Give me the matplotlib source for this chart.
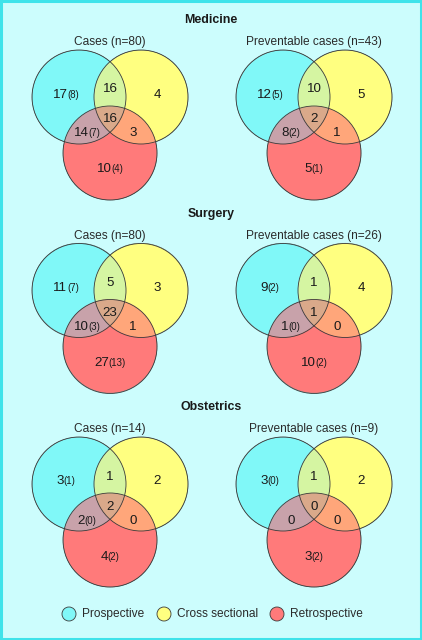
import numpy as np
import matplotlib
matplotlib.use("Agg")
import matplotlib.pyplot as plt
from matplotlib.patches import Circle, Rectangle

plt.rcParams["font.family"] = ["Liberation Sans", "DejaVu Sans"]

# ---- data -------------------------------------------------------------
sections = ["Medicine", "Surgery", "Obstetrics"]
cases_n = [80, 80, 14]
prev_n = [43, 26, 9]

# region order: prospective only, pro+cross, cross only, all three,
#               pro+retro, cross+retro, retro only
cases_counts = [[17, 16, 4, 16, 14, 3, 10],
                [11, 5, 3, 23, 10, 1, 27],
                [3, 1, 2, 2, 2, 0, 4]]
cases_paren = [[8, None, None, None, 7, None, 4],
               [7, None, None, None, 3, None, 13],
               [1, None, None, None, 0, None, 2]]
prev_counts = [[12, 10, 5, 2, 8, 1, 5],
               [9, 1, 4, 1, 1, 0, 10],
               [3, 1, 2, 0, 0, 0, 3]]
prev_paren = [[5, None, None, None, 2, None, 1],
              [2, None, None, None, 0, None, 2],
              [0, None, None, None, None, None, 2]]

legend_labels = ["Prospective", "Cross sectional", "Retrospective"]

# ---- style ------------------------------------------------------------
BG = "#ccfdfd"
BORDER = "#3fe3ea"
C_PRO = "#80f8f8"
C_CRO = "#ffff80"
C_RET = "#ff7a7a"
C_PC = "#d6f5a2"
C_PR = "#c9a2aa"
C_CR = "#ffa67a"
C_ALL = "#dba98a"
EDGE = "#3a3a3a"
TXT = "#1a1a1a"

R = 47.0        # circle radius (px)
DX = 31.0       # half distance between top circles
DY = 56.0       # vertical offset of bottom circle
PANEL_X = [110, 314]
PANEL_Y0 = 97
PANEL_DY = 193.5

# label offsets relative to panel centre, same order as counts
LABEL_OFF = [(-44, -4), (0, -9), (47, -4), (0, 21), (-23, 35), (23, 35), (0, 71)]

W, H = 422, 640
fig = plt.figure(figsize=(W / 100, H / 100), dpi=100)
fig.patch.set_facecolor(BG)
ax = fig.add_axes([0, 0, 1, 1])
ax.set_xlim(0, W)
ax.set_ylim(H, 0)
ax.axis("off")
ax.add_patch(Rectangle((1, 1), W - 2, H - 2, fill=False, edgecolor=BORDER,
                       linewidth=2.2, zorder=10))
renderer = fig.canvas.get_renderer()


def draw_venn(cx, cy):
    centres = [(cx - DX, cy), (cx + DX, cy), (cx, cy + DY)]
    x0, x1 = cx - DX - R - 2, cx + DX + R + 2
    y0, y1 = cy - R - 2, cy + DY + R + 2
    xs = np.arange(x0, x1, 0.25)
    ys = np.arange(y0, y1, 0.25)
    gx, gy = np.meshgrid(xs, ys)
    a = (gx - centres[0][0]) ** 2 + (gy - centres[0][1]) ** 2 <= R ** 2
    b = (gx - centres[1][0]) ** 2 + (gy - centres[1][1]) ** 2 <= R ** 2
    c = (gx - centres[2][0]) ** 2 + (gy - centres[2][1]) ** 2 <= R ** 2
    img = np.zeros(gx.shape + (4,))
    lut = {
        (1, 0, 0): C_PRO, (0, 1, 0): C_CRO, (0, 0, 1): C_RET,
        (1, 1, 0): C_PC, (1, 0, 1): C_PR, (0, 1, 1): C_CR, (1, 1, 1): C_ALL,
    }
    for key, col in lut.items():
        m = (a == key[0]) & (b == key[1]) & (c == key[2])
        img[m] = matplotlib.colors.to_rgba(col)
    ax.imshow(img, extent=(x0, x1, y1, y0), interpolation="antialiased",
              zorder=1)
    for (x, y) in centres:
        ax.add_patch(Circle((x, y), R, fill=False, edgecolor=EDGE,
                            linewidth=0.6, zorder=2))


def put_label(x, y, num, paren):
    base = y + 4.5
    t1 = ax.text(x, base, str(num), ha="center", va="baseline", fontsize=9.6,
                 color=TXT, zorder=5)
    if paren is None:
        return
    t1.set_ha("left")
    t2 = ax.text(x, base, "(%d)" % paren, ha="left", va="baseline",
                 fontsize=6.9, color=TXT, zorder=5)
    w1 = t1.get_window_extent(renderer).width
    w2 = t2.get_window_extent(renderer).width
    start = x - (w1 + w2) / 2
    t1.set_x(start)
    t2.set_x(start + w1)


for i, name in enumerate(sections):
    cy = PANEL_Y0 + i * PANEL_DY
    ax.text(211, cy - 77, name, ha="center", va="center", fontsize=8.9,
            fontweight="bold", color=TXT)
    panels = [("Cases (n=%d)" % cases_n[i], cases_counts[i], cases_paren[i]),
              ("Preventable cases (n=%d)" % prev_n[i], prev_counts[i], prev_paren[i])]
    for cx, (title, counts, parens) in zip(PANEL_X, panels):
        ax.text(cx, cy - 55, title, ha="center", va="center", fontsize=8.6,
                color="#2a2a2a")
        draw_venn(cx, cy)
        for (ox, oy), n, p in zip(LABEL_OFF, counts, parens):
            put_label(cx + ox, cy + oy, n, p)

# legend
leg_x = [69, 164, 277]
for lx, lab, col in zip(leg_x, legend_labels, [C_PRO, C_CRO, C_RET]):
    ax.add_patch(Circle((lx, 614), 7, facecolor=col, edgecolor=EDGE,
                        linewidth=0.6, zorder=3))
    ax.text(lx + 13, 614, lab, ha="left", va="center", fontsize=8.6,
            color="#2a2a2a")

fig.savefig("out.png", dpi=100, facecolor=BG)
